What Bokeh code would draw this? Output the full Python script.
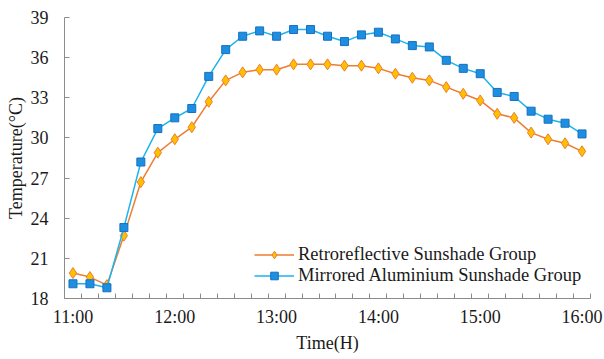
from bokeh.plotting import figure
from bokeh.models import Range1d, FixedTicker, Legend, LegendItem
from bokeh.embed import file_html
from bokeh.resources import INLINE

times = ["11:00", "11:10", "11:20", "11:30", "11:40", "11:50",
         "12:00", "12:10", "12:20", "12:30", "12:40", "12:50",
         "13:00", "13:10", "13:20", "13:30", "13:40", "13:50",
         "14:00", "14:10", "14:20", "14:30", "14:40", "14:50",
         "15:00", "15:10", "15:20", "15:30", "15:40", "15:50", "16:00"]
retro = [19.9, 19.6, 19.0, 22.7, 26.7, 28.9, 29.9, 30.8, 32.7, 34.3, 34.9, 35.1,
         35.1, 35.5, 35.5, 35.5, 35.4, 35.4, 35.2, 34.8, 34.5, 34.3, 33.8, 33.3,
         32.8, 31.8, 31.5, 30.4, 29.9, 29.6, 29.0]
mirror = [19.1, 19.1, 18.8, 23.3, 28.2, 30.7, 31.5, 32.2, 34.6, 36.6, 37.6, 38.0,
          37.6, 38.1, 38.1, 37.6, 37.2, 37.7, 37.9, 37.4, 36.9, 36.8, 35.8, 35.2,
          34.8, 33.4, 33.1, 32.0, 31.4, 31.1, 30.3]
major_labels = ["11:00", "12:00", "13:00", "14:00", "15:00", "16:00"]
y_ticks = [18, 21, 24, 27, 30, 33, 36, 39]

x = list(range(len(times)))
major_pos = [times.index(t) for t in major_labels]

FONT = "Liberation Serif"
AX = "#8c8c8c"
TXT = "#1a1a1a"

p = figure(width=604, height=359, output_backend="svg", toolbar_location=None,
           x_range=Range1d(-0.5, len(times) - 0.5), y_range=Range1d(18, 39),
           frame_width=526, frame_height=281,
           min_border_left=64, min_border_right=14, min_border_top=17, min_border_bottom=61)
p.outline_line_color = None
p.xgrid.visible = False
p.ygrid.visible = False

p.xaxis.ticker = FixedTicker(ticks=major_pos, minor_ticks=[i + 0.5 for i in range(-1, len(times))])
p.xaxis.major_label_overrides = {pos: lab for pos, lab in zip(major_pos, major_labels)}
p.xaxis.major_tick_in = 0
p.xaxis.major_tick_out = 0
p.xaxis.minor_tick_in = 5
p.xaxis.minor_tick_out = 0
p.xaxis.major_label_standoff = 8
p.xaxis.axis_label = "Time(H)"
p.xaxis.axis_label_standoff = 3

p.yaxis.ticker = FixedTicker(ticks=y_ticks)
p.yaxis.major_tick_in = 5
p.yaxis.major_tick_out = 0
p.yaxis.minor_tick_in = 0
p.yaxis.minor_tick_out = 0
p.yaxis.major_label_standoff = 16
p.yaxis.axis_label = "Temperature(°C)"
p.yaxis.axis_label_standoff = 2

for ax in (p.xaxis, p.yaxis):
    ax.axis_line_color = AX
    ax.major_tick_line_color = AX
    ax.minor_tick_line_color = AX
    ax.major_label_text_font = FONT
    ax.major_label_text_font_size = "18px"
    ax.major_label_text_color = TXT
    ax.axis_label_text_font = FONT
    ax.axis_label_text_font_size = "18px"
    ax.axis_label_text_font_style = "normal"
    ax.axis_label_text_color = TXT

r1l = p.line(x, retro, line_color="#ED7D31", line_width=1.5)
r1m = p.scatter(x, retro, marker="diamond", size=11, fill_color="#FFC000",
                line_color="#ED7D31", line_width=1)
r2l = p.line(x, mirror, line_color="#1BB3F0", line_width=1.5)
r2m = p.scatter(x, mirror, marker="square", size=8, fill_color="#1E8FE0",
                line_color="#1670C0", line_width=1)

legend = Legend(items=[
    LegendItem(label="Retroreflective Sunshade Group", renderers=[r1l, r1m]),
    LegendItem(label="Mirrored Aluminium Sunshade Group", renderers=[r2l, r2m]),
], location=(190, 12))
legend.background_fill_alpha = 0
legend.border_line_color = None
legend.padding = 0
legend.spacing = 0
legend.margin = 0
legend.glyph_width = 40
legend.glyph_height = 19
legend.label_height = 19
legend.label_standoff = 4
legend.label_text_font = FONT
legend.label_text_font_size = "18.5px"
legend.label_text_color = TXT
p.add_layout(legend, "center")

open("out.html", "w").write(file_html(p, INLINE))
